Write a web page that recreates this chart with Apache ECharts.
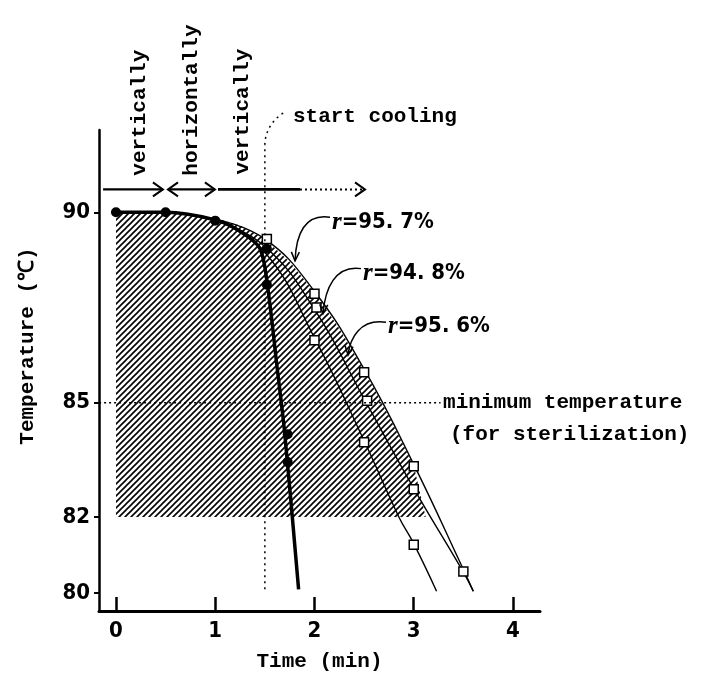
<!DOCTYPE html>
<html><head><meta charset="utf-8">
<script src="https://cdn.jsdelivr.net/npm/echarts@6/dist/echarts.min.js"></script>
<style>html,body{margin:0;padding:0;background:#fff}#c{width:713px;height:677px}</style>
</head><body><div id="c"></div>
<script>
// ---- data ----
const timeTicks = [0, 1, 2, 3, 4];
const tempTicks = [80, 82, 85, 90];
// filled circles (heating vertically -> horizontally -> vertically, measured)
const filledPoints = [[0, 90], [0.5, 90], [1, 89.78], [1.52, 89.04], [1.52, 88.1], [1.73, 84.17], [1.73, 83.44]];
// open squares
const openPoints = [[1.52, 89.3], [2, 87.86], [2.02, 87.5], [2, 86.64], [2.5, 85.8], [2.53, 85.05], [2.5, 83.96], [3, 83.33], [3, 82.73], [3, 81.27], [3.5, 80.57]];
// curves
const thickCurve = [[0, 90], [0.5, 90], [1, 89.8], [1.25, 89.5], [1.45, 89.05], [1.53, 88.0], [1.62, 86.0], [1.7, 84.2], [1.84, 80.1]];
const curveR957 = [[1, 89.82], [1.5, 89.3], [2, 87.92], [2.5, 85.88], [3, 83.38], [3.5, 80.62], [3.6, 80.05]];
const curveR948 = [[1, 89.8], [1.5, 89.1], [2, 87.45], [2.5, 85.1], [3, 82.75], [3.5, 80.55], [3.6, 80.05]];
const curveR956 = [[1, 89.8], [1.5, 88.95], [2, 86.7], [2.5, 84.0], [2.85, 82.0], [3, 81.3], [3.23, 80.05]];
// hatched sterilization region boundary
const hatchRegion = [[0, 82], [0, 90], [0.5, 90], [1, 89.85], [1.25, 89.65], [1.5, 89.3], [1.75, 88.7], [2, 87.9], [2.25, 86.95], [2.5, 85.85], [2.75, 84.65], [3, 83.35], [3.12, 82]];
const labelsR = ['=95. 7%', '=94. 8%', '=95. 6%'];

const MONO = "'Liberation Mono','DejaVu Sans Mono',monospace";
const NARROW = "'Liberation Sans Narrow','DejaVu Sans Condensed','Liberation Sans',sans-serif";

function hatchCanvas() {
  const c = document.createElement('canvas'); c.width = 6; c.height = 6;
  const g = c.getContext('2d');
  g.strokeStyle = '#000'; g.lineWidth = 1.6; g.beginPath();
  g.moveTo(-1, 7); g.lineTo(7, -1);
  g.moveTo(-1, 1); g.lineTo(1, -1);
  g.moveTo(5, 7); g.lineTo(7, 5);
  g.stroke();
  return c;
}
const pat = { image: hatchCanvas(), repeat: 'repeat' };

const chart = echarts.init(document.getElementById('c'));
const lineBase = { type: 'line', showSymbol: false, smooth: 0.45, silent: true, animation: false };
chart.setOption({
  animation: false,
  backgroundColor: '#fff',
  grid: { left: 99, right: 173, top: 130, bottom: 62 },
  xAxis: {
    type: 'value', min: -0.171, max: 4.272,
    name: 'Time (min)', nameLocation: 'middle', nameGap: 40,
    nameTextStyle: { fontFamily: MONO, fontSize: 21, color: '#000', fontWeight: 'bold' },
    axisLine: { onZero: false, lineStyle: { color: '#000', width: 3 } },
    axisTick: { customValues: timeTicks, inside: true, length: 14, lineStyle: { color: '#000', width: 2.5 } },
    axisLabel: { customValues: timeTicks, margin: 9, color: '#000', fontFamily: NARROW, fontWeight: 'bold', fontSize: 22 },
    splitLine: { show: false }
  },
  yAxis: {
    type: 'value', min: 79.53, max: 92.16,
    axisLine: { show: true, onZero: false, lineStyle: { color: '#000', width: 2.5 } },
    axisTick: { customValues: tempTicks, inside: false, length: 5, lineStyle: { color: '#000', width: 2 } },
    axisLabel: { customValues: tempTicks, margin: 9, color: '#000', fontFamily: NARROW, fontWeight: 'bold', fontSize: 22 },
    splitLine: { show: false }
  },
  series: [
    {
      type: 'custom', silent: true, z: 1, data: [[0, 0]],
      renderItem: (params, api) => ({
        type: 'polygon',
        shape: { points: hatchRegion.map(p => api.coord(p)), smooth: 0 },
        style: { fill: pat, stroke: null }
      })
    },
    Object.assign({}, lineBase, { data: curveR957, z: 3, lineStyle: { color: '#000', width: 1.4 } }),
    Object.assign({}, lineBase, { data: curveR948, z: 3, lineStyle: { color: '#000', width: 1.4 } }),
    Object.assign({}, lineBase, { data: curveR956, z: 3, lineStyle: { color: '#000', width: 1.4 } }),
    Object.assign({}, lineBase, { data: thickCurve, z: 4, smooth: 0.3, lineStyle: { color: '#000', width: 3.5 } }),
    { type: 'scatter', data: openPoints, z: 5, symbol: 'rect', symbolSize: 9, silent: true,
      itemStyle: { color: '#fff', borderColor: '#000', borderWidth: 1.5, opacity: 1 } },
    { type: 'scatter', data: filledPoints, z: 6, symbol: 'circle', symbolSize: 10, silent: true,
      itemStyle: { color: '#000', opacity: 1 } }
  ]
});

// ---- annotations, positioned through the chart's own coordinate system ----
const P = (t, T) => chart.convertToPixel({ gridIndex: 0 }, [t, T]);
function head(tip, from, len, w) {
  const dx = tip[0] - from[0], dy = tip[1] - from[1];
  const d = Math.hypot(dx, dy) || 1, ux = dx / d, uy = dy / d;
  const bx = tip[0] - ux * len, by = tip[1] - uy * len;
  return [[bx - uy * w, by + ux * w], tip, [bx + uy * w, by - ux * w]];
}
const G = [];
const line = (a, b, w, dash) => G.push({ type: 'line', silent: true, z: 50,
  shape: { x1: a[0], y1: a[1], x2: b[0], y2: b[1] },
  style: { stroke: '#000', lineWidth: w, lineDash: dash || null } });
const poly = (pts, w) => G.push({ type: 'polyline', silent: true, z: 50, shape: { points: pts }, style: { stroke: '#000', lineWidth: w, fill: null } });
const text = (p, s, opt) => G.push(Object.assign({ type: 'text', silent: true, z: 60, x: p[0], y: p[1],
  style: Object.assign({ text: s, fill: '#000', font: 'bold 21px ' + MONO, align: 'left', verticalAlign: 'middle' }, opt && opt.style) }, opt && opt.el));

// row of heating-mode arrows
const rowT = 90.6;
let a = P(-0.13, rowT), b = P(0.473, rowT);
line(a, b, 2.2); poly(head(b, a, 10, 7), 2);
a = P(0.524, rowT); b = P(0.997, rowT);
line(a, b, 2.2); poly(head(b, a, 10, 7), 2); poly(head(a, b, 10, 7), 2);
a = P(1.028, rowT); b = P(1.854, rowT); const c3 = P(2.509, rowT);
line(a, b, 2.6); line(b, c3, 2, [2, 3]); poly(head(c3, b, 10, 7), 2);

// rotated mode labels
const rot = { el: { rotation: Math.PI / 2 } };
text(P(0.242, 90.96), 'vertically', rot);
text(P(0.766, 90.96), 'horizontally', rot);
text(P(1.28, 90.99), 'vertically', rot);

// start cooling line + label
const sc0 = P(1.5, 80.1), sc1 = P(1.5, 91.77), sc2 = P(1.703, 92.63);
line(sc0, sc1, 1.5, [2, 4]);
G.push({ type: 'bezierCurve', silent: true, z: 50,
  shape: { x1: sc1[0], y1: sc1[1], x2: sc2[0], y2: sc2[1], cpx1: sc1[0], cpy1: sc1[1] - 15, cpx2: sc2[0] - 10, cpy2: sc2[1] + 5 },
  style: { stroke: '#000', lineWidth: 1.5, lineDash: [2, 4], fill: null } });
text(P(1.783, 92.5), 'start cooling');

// minimum temperature line + label
line(P(-0.17, 85), P(3.27, 85), 1.5, [2, 3]);
text(P(3.295, 85.0), 'minimum temperature');
text(P(3.365, 84.17), '(for sterilization)');

// r labels with curved arrows
const rAnn = [
  { lab: [2.176, 89.74], s: [2.156, 89.87], c1: [1.904, 89.97], c2: [1.814, 89.43], e: [1.804, 88.72] },
  { lab: [2.489, 88.39], s: [2.469, 88.52], c1: [2.207, 88.62], c2: [2.106, 87.99], e: [2.086, 87.34] },
  { lab: [2.741, 87.005], s: [2.72, 87.11], c1: [2.458, 87.21], c2: [2.358, 86.69], e: [2.338, 86.25] }
];
rAnn.forEach((r, i) => {
  const s = P(...r.s), c1 = P(...r.c1), c2 = P(...r.c2), e = P(...r.e);
  G.push({ type: 'bezierCurve', silent: true, z: 50,
    shape: { x1: s[0], y1: s[1], x2: e[0], y2: e[1], cpx1: c1[0], cpy1: c1[1], cpx2: c2[0], cpy2: c2[1] },
    style: { stroke: '#000', lineWidth: 1.5, fill: null } });
  poly(head(e, c2, 9, 4), 1.5);
  text(P(...r.lab), '{i|r}{n|' + labelsR[i] + '}', { style: { rich: {
    i: { fontFamily: "'Liberation Serif','DejaVu Serif',serif", fontStyle: 'italic', fontWeight: 'bold', fontSize: 25, fill: '#000' },
    n: { fontFamily: NARROW, fontWeight: 'bold', fontSize: 22, fill: '#000' } } } });
});

// y axis title
G.push({ type: 'text', silent: true, z: 60, x: 28, y: 346, rotation: Math.PI / 2,
  style: { text: 'Temperature (℃)', fill: '#000', font: 'bold 21px ' + MONO, align: 'center', verticalAlign: 'middle' } });

chart.setOption({ graphic: G });
</script></body></html>
